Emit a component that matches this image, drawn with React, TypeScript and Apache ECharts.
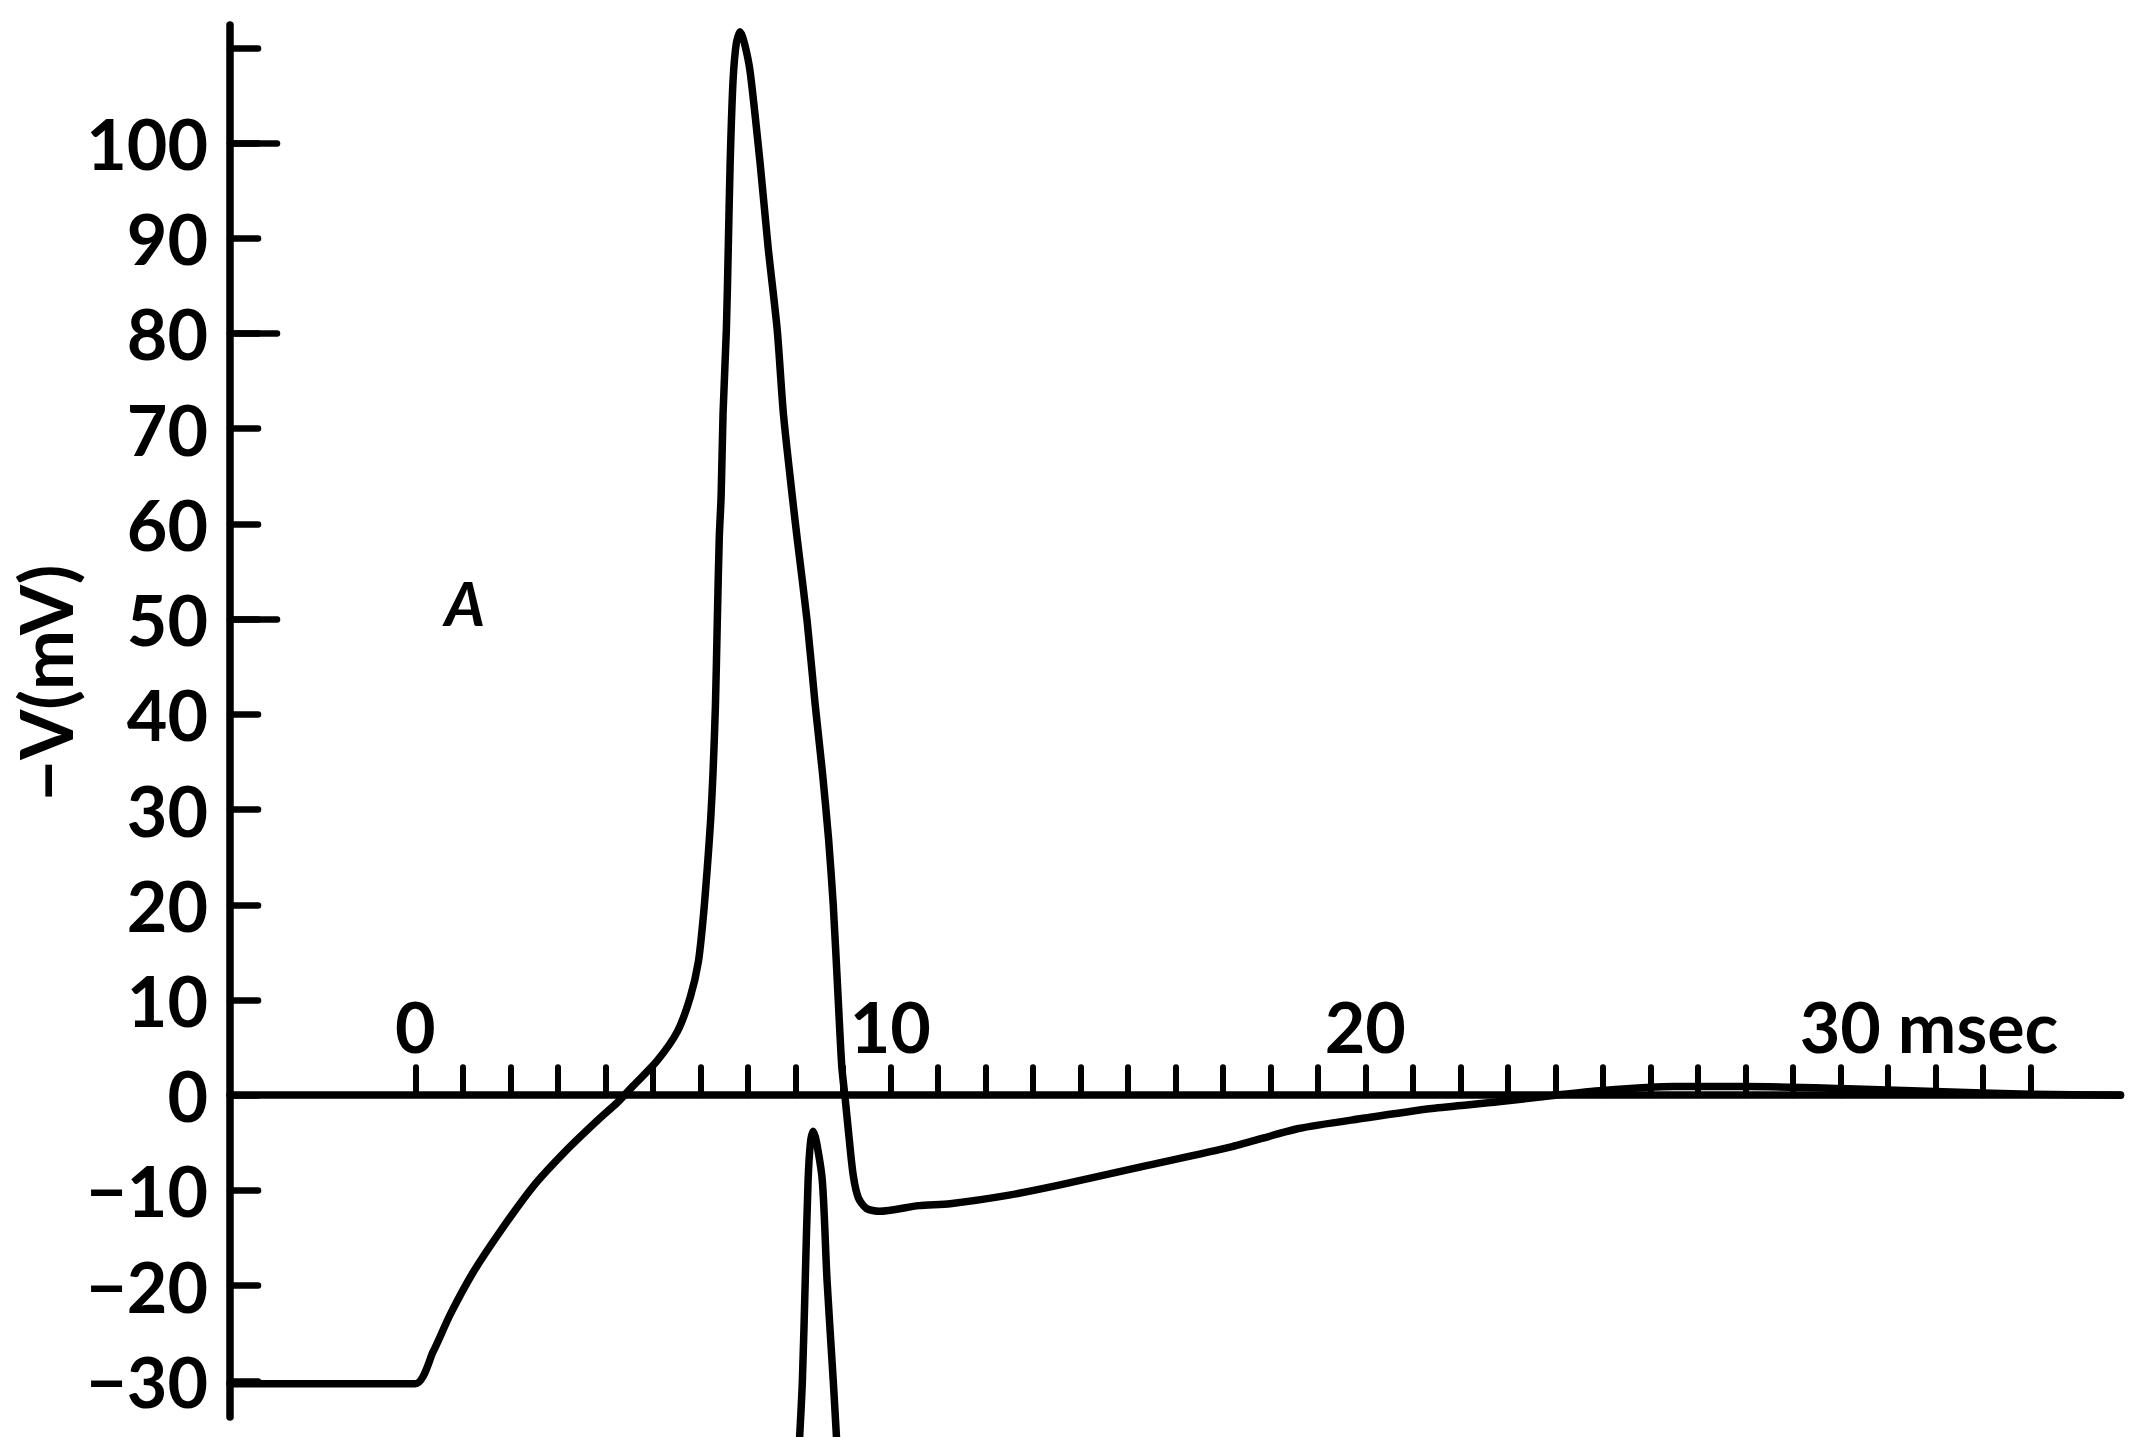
import React, { useEffect, useRef } from "react";
import * as echarts from "echarts";

// Axis ticks and labels
const timeTicks = [0, 1, 2, 3, 4, 5, 6, 7, 8, 9, 10, 11, 12, 13, 14, 15, 16, 17, 18, 19, 20, 21, 22, 23, 24, 25, 26, 27, 28, 29, 30, 31, 32, 33, 34];
const timeLabels = [0, 10, 20, 30];
const voltTicks = [-30, -20, -10, 0, 10, 20, 30, 40, 50, 60, 70, 80, 90, 100, 110];
const voltLabels = [-30, -20, -10, 0, 10, 20, 30, 40, 50, 60, 70, 80, 90, 100];
const voltLongTicks = [100, 80, 50];

// Main trace (A): time in msec, -V in mV
const mainTime = [
  -3.9, 0.0, 0.38, 0.74, 1.22, 1.79, 2.48, 3.2, 3.89, 4.25, 4.59, 5.09, 5.52, 5.79, 5.96, 6.06, 6.15, 6.22,
  6.27, 6.32, 6.36, 6.4, 6.44, 6.48, 6.55, 6.59, 6.63, 6.69, 6.76, 6.84, 6.93, 7.05, 7.26, 7.43, 7.62, 7.75,
  7.94, 8.04, 8.25, 8.42, 8.57, 8.7, 8.8, 8.9, 8.98, 9.05, 9.12, 9.22, 9.33, 9.5, 9.77, 10.6, 11.26, 12.5,
  13.6, 15.3, 17.2, 18.6, 20.0, 21.4, 22.8, 24.0, 25.0, 26.5, 28.0, 30.0, 32.0, 34.0, 35.9,
];
const mainVolt = [
  -30.3, -30.3, -26.9, -23.0, -18.6, -14.3, -9.6, -5.7, -2.4, -0.8, 1.0, 3.6, 6.7, 10.3, 14.0, 18.5, 24.0, 29.0,
  34.0, 41.0, 50.0, 58.5, 63.0, 71.6, 80.4, 89.0, 98.0, 106.5, 110.5, 111.7, 110.5, 107.5, 97.9, 89.0, 80.4, 71.6,
  62.8, 58.5, 49.8, 41.0, 34.0, 27.0, 20.0, 10.5, 3.0, -0.3, -3.8, -8.4, -10.8, -11.9, -12.2, -11.6, -11.4, -10.5,
  -9.4, -7.5, -5.4, -3.5, -2.4, -1.4, -0.7, 0.0, 0.5, 0.9, 0.9, 0.7, 0.4, 0.1, 0.0,
];

// Second (inverted) spike
const spikeTime = [8.08, 8.15, 8.21, 8.27, 8.32, 8.38, 8.45, 8.57, 8.67, 8.8, 8.88];
const spikeVolt = [-37, -30, -19.5, -9, -5, -3.8, -5, -9, -19.5, -30, -37];

const FONT = "'Lato', sans-serif";

export default function App() {
  const ref = useRef<HTMLDivElement>(null);

  useEffect(() => {
    if (!ref.current) return;
    const chart = echarts.init(ref.current, null, { renderer: "svg" });
    const lineCol = "#000000";

    const option: any = {
      animation: false,
      backgroundColor: "#fff",
      textStyle: { color: lineCol },
      grid: { left: 230, right: 17.5, top: 25, bottom: 20, containLabel: false, outerBoundsMode: "none" },
      xAxis: {
        type: "value",
        min: -3.9,
        max: 35.9,
        axisLine: { show: true, onZero: true, lineStyle: { color: lineCol, width: 7.5, cap: "round" } },
        axisTick: {
          show: true,
          inside: true,
          length: 28,
          customValues: timeTicks,
          lineStyle: { color: lineCol, width: 6, cap: "round" },
        },
        axisLabel: { show: false },
        splitLine: { show: false },
      },
      yAxis: [
        {
          type: "value",
          min: -33.8,
          max: 112.4,
          position: "left",
          axisLine: { show: true, onZero: false, lineStyle: { color: lineCol, width: 7.5, cap: "round" } },
          axisTick: {
            show: true,
            inside: true,
            length: 28,
            customValues: voltTicks,
            lineStyle: { color: lineCol, width: 6.5, cap: "round" },
          },
          axisLabel: {
            show: true,
            margin: 22,
            customValues: voltLabels,
            color: lineCol,
            fontFamily: FONT,
            fontWeight: "bold",
            fontSize: 70,
            formatter: (v: number) => (v < 0 ? "\u2212" + Math.abs(v) : String(v)),
          },
          splitLine: { show: false },
        },
        {
          type: "value",
          min: -33.8,
          max: 112.4,
          position: "left",
          axisLine: { show: false, onZero: false },
          axisTick: {
            show: true,
            inside: true,
            length: 47,
            customValues: voltLongTicks,
            lineStyle: { color: lineCol, width: 6.5, cap: "round" },
          },
          axisLabel: { show: false },
          splitLine: { show: false },
        },
      ],
      series: [
        {
          type: "line",
          name: "A",
          data: mainTime.map((t, i) => [t, mainVolt[i]]),
          symbol: "none",
          smooth: 0.25,
          lineStyle: { color: lineCol, width: 7.5, cap: "round", join: "round" },
          z: 5,
        },
        {
          type: "line",
          name: "spike",
          data: spikeTime.map((t, i) => [t, spikeVolt[i]]),
          symbol: "none",
          smooth: 0.3,
          clip: false,
          lineStyle: { color: lineCol, width: 7.5, cap: "round", join: "round" },
          z: 5,
        },
        {
          type: "scatter",
          name: "time labels",
          data: timeLabels.map((t) => [t, 0]),
          symbol: "circle",
          symbolSize: 0,
          silent: true,
          itemStyle: { color: lineCol, opacity: 1 },
          emphasis: { disabled: true },
          z: 6,
          label: {
            show: true,
            position: "top",
            distance: 34,
            color: lineCol,
            opacity: 1,
            textBorderWidth: 0,
            fontFamily: FONT,
            fontWeight: "bold",
            fontSize: 70,
            formatter: (p: any) => (p.value[0] === 30 ? "{g|msec} 30 {t|msec}" : String(p.value[0])),
            rich: {
              g: { color: "rgba(0,0,0,0)", fontFamily: FONT, fontWeight: "bold", fontSize: 70 },
              t: { color: lineCol, fontFamily: FONT, fontWeight: "bold", fontSize: 70 },
            },
          },
        },
      ],
      graphic: [
        {
          type: "text",
          x: 45,
          y: 683,
          rotation: Math.PI / 2,
          style: {
            text: "\u2212V(mV)",
            fill: lineCol,
            font: `bold 72px ${FONT}`,
            align: "center",
            verticalAlign: "middle",
          },
        },
        {
          type: "text",
          x: 465,
          y: 602,
          style: {
            text: "A",
            fill: lineCol,
            font: `italic bold 62px ${FONT}`,
            align: "center",
            verticalAlign: "middle",
          },
        },
      ],
    };

    chart.setOption(option);
    return () => chart.dispose();
  }, []);

  return (
    <div
      ref={ref}
      style={{ position: "fixed", left: 0, top: 0, width: 2138, height: 1437, background: "#fff" }}
    />
  );
}
